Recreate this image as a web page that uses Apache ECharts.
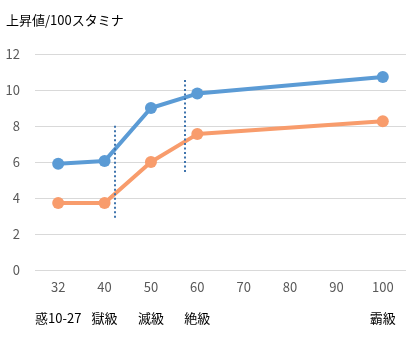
<!DOCTYPE html>
<html><head><meta charset="utf-8">
<script src="https://cdn.jsdelivr.net/npm/echarts@6/dist/echarts.min.js"></script>
<style>html,body{margin:0;padding:0;background:#fff}#c{width:420px;height:338px}</style>
</head><body><div id="c"></div>
<script>
var categories = ['32','40','50','60','70','80','90','100'];
var subLabels = ['惑10-27','獄級','滅級','絶級','','','','霸級'];
var seriesBlue = [5.9, 6.05, 9.0, 9.8, null, null, null, 10.72];
var seriesOrange = [3.72, 3.72, 6.0, 7.55, null, null, null, 8.27];
var yTicks = {min: 0, max: 12, interval: 2};
// dividers: [category position, yStart, yEnd]
var dividers = [[1.23, 2.9, 8.1], [2.73, 5.45, 10.7]];

var chart = echarts.init(document.getElementById('c'));
var font = '"Noto Sans CJK JP", "Noto Sans", sans-serif';
chart.setOption({
  animation: false,
  textStyle: {fontFamily: font},
  title: {text: '上昇値/100スタミナ', left: 1, top: 9,
    textStyle: {fontSize: 13, fontWeight: 'normal', color: '#000', fontFamily: font}},
  grid: {left: 35, right: 14, top: 54, bottom: 68, containLabel: false},
  xAxis: [{
    type: 'category', data: categories, boundaryGap: true,
    axisLine: {show: false}, axisTick: {show: false},
    axisLabel: {
      margin: 8, interval: 0,
      formatter: function (v, i) { return '{a|' + v + '}\n{b|' + (subLabels[i] || ' ') + '}'; },
      rich: {
        a: {fontSize: 13, color: '#595959', lineHeight: 18, fontFamily: font},
        b: {fontSize: 13, color: '#000', lineHeight: 44, fontFamily: font}
      }
    }
  }, {
    type: 'value', min: -0.5, max: 7.5, show: false
  }],
  yAxis: {
    type: 'value', min: yTicks.min, max: yTicks.max, interval: yTicks.interval,
    axisLine: {show: false}, axisTick: {show: false},
    axisLabel: {fontSize: 13, color: '#595959', margin: 15, fontFamily: font},
    splitLine: {lineStyle: {color: '#d9d9d9', width: 1}}
  },
  series: [{
    type: 'line', data: seriesBlue, connectNulls: true,
    symbol: 'circle', symbolSize: 12,
    lineStyle: {color: '#5b9bd5', width: 4},
    itemStyle: {color: '#5b9bd5'}, z: 3
  }, {
    type: 'line', data: seriesOrange, connectNulls: true,
    symbol: 'circle', symbolSize: 12,
    lineStyle: {color: '#f89c6c', width: 4},
    itemStyle: {color: '#f89c6c'}, z: 3
  }, {
    type: 'line', xAxisIndex: 1, data: [], symbol: 'none',
    markLine: {
      silent: true, symbol: 'none', label: {show: false},
      lineStyle: {color: '#3f74ad', width: 2, type: [2, 2.5]},
      data: dividers.map(function (d) { return [{coord: [d[0], d[1]]}, {coord: [d[0], d[2]]}]; })
    }, z: 2
  }]
});
</script></body></html>
